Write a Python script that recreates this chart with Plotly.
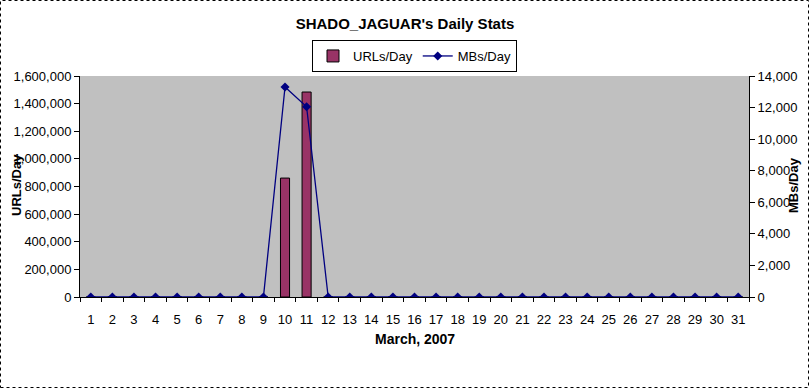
import plotly.graph_objects as go

days = [str(d) for d in range(1, 32)]
urls_per_day = [0]*9 + [861000, 1484000] + [0]*20
mbs_per_day = [0]*9 + [13300, 12050] + [0]*20

W, H = 810, 389
L, R, T, B = 80, 61, 76, 92
pw = W - L - R
ph = H - T - B

fig = go.Figure()
fig.add_trace(go.Bar(x=days, y=urls_per_day, name="URLs/Day",
                     marker=dict(color="#993366", line=dict(color="black", width=1)),
                     width=0.42, yaxis="y"))
fig.add_trace(go.Scatter(x=days, y=mbs_per_day, name="MBs/Day", mode="lines+markers",
                         line=dict(color="#000080", width=1.3),
                         marker=dict(symbol="diamond", size=7, color="#000080"),
                         yaxis="y2"))

font = "Liberation Sans, Arial, sans-serif"
fig.update_layout(
    width=W, height=H,
    margin=dict(l=L, r=R, t=T, b=B, autoexpand=False),
    paper_bgcolor="white", plot_bgcolor="#c0c0c0",
    font=dict(family=font, size=13, color="black"),
    title=dict(text="<b>SHADO_JAGUAR's Daily Stats</b>", x=0.5, xanchor="center",
               y=1 - 24 / H, yanchor="middle", font=dict(size=15)),
    showlegend=True,
    legend=dict(orientation="h", x=0.5, xanchor="center", y=(H - B - 40) / ph, yanchor="top",
                bordercolor="black", borderwidth=1, bgcolor="white",
                font=dict(size=13), traceorder="normal"),
    xaxis=dict(type="category", showgrid=False, showline=True, linecolor="black",
               ticks="outside", tickson="boundaries", ticklen=4, tickcolor="black",
               tickangle=0, ticklabelstandoff=10,
               range=[-0.5, 30.5], zeroline=False),
    yaxis=dict(range=[0, 1600000], dtick=200000, tickformat=",", showgrid=False,
               showline=True, linecolor="black", ticks="outside", ticklen=5,
               tickcolor="black", zeroline=False),
    yaxis2=dict(range=[0, 14000], dtick=2000, tickformat=",", overlaying="y", side="right",
                showgrid=False, showline=True, linecolor="black", ticks="outside",
                ticklen=5, tickcolor="black", zeroline=False),
    annotations=[
        dict(text="<b>URLs/Day</b>", xref="paper", yref="paper", x=(16 - L) / pw,
             y=(H - B - 185) / ph, xanchor="center", yanchor="middle",
             textangle=-90, showarrow=False, font=dict(size=13)),
        dict(text="<b>MBs/Day</b>", xref="paper", yref="paper", x=(793 - L) / pw,
             y=(H - B - 185) / ph, xanchor="center", yanchor="middle",
             textangle=-90, showarrow=False, font=dict(size=13)),
        dict(text="<b>March, 2007</b>", xref="paper", yref="paper", x=0.5,
             y=(H - B - 339) / ph, xanchor="center", yanchor="middle",
             showarrow=False, font=dict(size=14)),
    ],
    shapes=[
        dict(type="rect", xref="paper", yref="paper",
             x0=(0.5 - L) / pw, x1=(W - 1.5 - L) / pw,
             y0=(H - B - (H - 1.5)) / ph, y1=(H - B - 0.5) / ph,
             line=dict(color="black", width=1, dash="dot"), layer="above"),
    ],
)

fig.write_html("out.html", config={"displayModeBar": False},
               post_script="document.body.style.margin='0';document.body.style.overflow='hidden';")
